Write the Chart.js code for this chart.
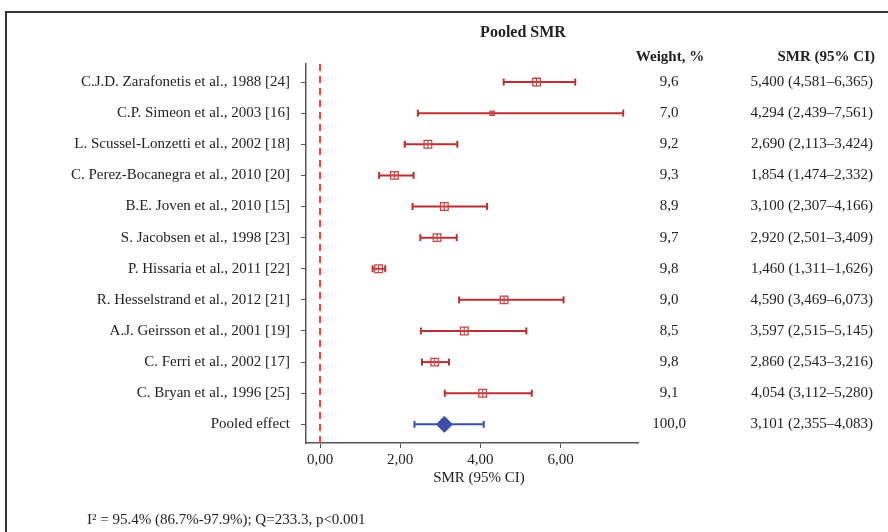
<!DOCTYPE html>
<html>
<head>
<meta charset="utf-8">
<script src="https://cdn.jsdelivr.net/npm/chart.js@4.4.0/dist/chart.umd.min.js"></script>
<style>
  html, body { margin: 0; padding: 0; background: #fff; }
  #wrap { position: relative; width: 888px; height: 532px; overflow: hidden; }
  #frame { position: absolute; left: 5px; top: 11px; width: 900px; height: 600px;
           border-top: 2px solid #333; border-left: 2px solid #333; }
  canvas { position: absolute; left: 0; top: 0; }
</style>
</head>
<body>
<div id="wrap">
  <div id="frame"></div>
  <canvas id="c" width="888" height="532"></canvas>
</div>
<script>
// ---- data ----
const studies = [
  "C.J.D. Zarafonetis et al., 1988 [24]",
  "C.P. Simeon et al., 2003 [16]",
  "L. Scussel-Lonzetti et al., 2002 [18]",
  "C. Perez-Bocanegra et al., 2010 [20]",
  "B.E. Joven et al., 2010 [15]",
  "S. Jacobsen et al., 1998 [23]",
  "P. Hissaria et al., 2011 [22]",
  "R. Hesselstrand et al., 2012 [21]",
  "A.J. Geirsson et al., 2001 [19]",
  "C. Ferri et al., 2002 [17]",
  "C. Bryan et al., 1996 [25]",
  "Pooled effect"
];
const smr     = [5.400, 4.294, 2.690, 1.854, 3.100, 2.920, 1.460, 4.590, 3.597, 2.860, 4.054, 3.101];
const ciLow   = [4.581, 2.439, 2.113, 1.474, 2.307, 2.501, 1.311, 3.469, 2.515, 2.543, 3.112, 2.355];
const ciHigh  = [6.365, 7.561, 3.424, 2.332, 4.166, 3.409, 1.626, 6.073, 5.145, 3.216, 5.280, 4.083];
const weights = [9.6, 7.0, 9.2, 9.3, 8.9, 9.7, 9.8, 9.0, 8.5, 9.8, 9.1, 100.0];
const xTicks  = [0, 2, 4, 6];
const chartTitle = "Pooled SMR";
const xTitle = "SMR (95% CI)";
const weightHeader = "Weight, %";
const smrHeader = "SMR (95% CI)";
const footnote = "I\u00B2 = 95.4% (86.7%-97.9%); Q=233.3, p<0.001";

// ---- helpers ----
const fmt = (v, d) => v.toFixed(d).replace('.', ',');
const RED = '#b83030';
const RED_MARK = '#c44848';
const BLUE = '#3a50aa';
const pooledIdx = studies.length - 1;
const serif = '"Liberation Serif", "Times New Roman", serif';

const datasets = [];
// reference dashed line at 0
datasets.push({
  data: [{x: 0, y: -0.58}, {x: 0, y: 11.6}],
  showLine: true, borderColor: '#ff3c3c', borderWidth: 2, borderDash: [7, 5],
  pointRadius: 0, order: 5
});
// CI lines with caps
studies.forEach((s, i) => {
  const col = i === pooledIdx ? BLUE : RED;
  datasets.push({
    data: [{x: ciLow[i], y: i}, {x: ciHigh[i], y: i}],
    showLine: true, borderColor: col, borderWidth: 2,
    pointStyle: 'line', rotation: 90, pointRadius: 3.5, pointBorderWidth: 2,
    pointBorderColor: col, order: 3
  });
});
// study point estimates: squares
const studyPts = smr.slice(0, pooledIdx).map((v, i) => ({x: v, y: i}));
datasets.push({
  data: studyPts,
  pointStyle: 'rect',
  pointRadius: studyPts.map((p, i) => weights[i] < 8 ? 3 : 5.4),
  backgroundColor: 'rgba(255,255,255,0)',
  borderColor: RED_MARK, borderWidth: 1.3, order: 1
});
datasets.push({
  data: studyPts,
  pointStyle: 'cross',
  pointRadius: studyPts.map((p, i) => weights[i] < 8 ? 2 : 3.8),
  borderColor: RED_MARK, borderWidth: 1.1, order: 0
});
// pooled diamond
datasets.push({
  data: [{x: smr[pooledIdx], y: pooledIdx}],
  pointStyle: 'rectRot', pointRadius: 8,
  backgroundColor: BLUE, borderColor: BLUE, borderWidth: 1, order: 0
});

const textPlugin = {
  id: 'texts',
  afterDraw(chart) {
    const ctx = chart.ctx;
    const y = chart.scales.y;
    ctx.save();
    ctx.fillStyle = '#222';
    ctx.textBaseline = 'middle';
    ctx.font = 'bold 16px ' + serif;
    ctx.textAlign = 'center';
    ctx.fillText(chartTitle, 523, 33);
    ctx.font = 'bold 15px ' + serif;
    ctx.fillText(weightHeader, 670, 57);
    ctx.textAlign = 'right';
    ctx.fillText(smrHeader, 875, 57);
    ctx.font = '15px ' + serif;
    studies.forEach((s, i) => {
      const py = y.getPixelForValue(i);
      ctx.textAlign = 'center';
      ctx.fillText(fmt(weights[i], 1), 669, py);
      ctx.textAlign = 'right';
      ctx.fillText(fmt(smr[i], 3) + ' (' + fmt(ciLow[i], 3) + '\u2013' + fmt(ciHigh[i], 3) + ')', 873, py);
    });
    ctx.textAlign = 'center';
    ctx.fillText(xTitle, 479, 478);
    ctx.textAlign = 'left';
    ctx.fillText(footnote, 87, 520);
    ctx.restore();
  }
};

new Chart(document.getElementById('c'), {
  type: 'scatter',
  data: { datasets },
  plugins: [textPlugin],
  options: {
    responsive: false,
    animation: false,
    layout: { padding: { left: 0, right: 250, top: 64, bottom: 39 } },
    plugins: { legend: { display: false }, tooltip: { enabled: false } },
    scales: {
      x: {
        type: 'linear', min: -0.35, max: 7.93,
        afterBuildTicks: (sc) => { sc.ticks = xTicks.map(v => ({value: v})); },
        afterFit: (sc) => { sc.height = 50; },
        ticks: {
          callback: (v) => fmt(v, 2),
          font: { family: serif, size: 15 }, color: '#222', padding: 3
        },
        grid: { drawOnChartArea: false, drawTicks: true, tickLength: 5, color: '#555' },
        border: { display: true, color: '#555', width: 1.5 }
      },
      y: {
        type: 'linear', reverse: true, min: -0.58, max: 11.6,
        afterBuildTicks: (sc) => { sc.ticks = studies.map((s, i) => ({value: i})); },
        afterFit: (sc) => { sc.width = 306; },
        ticks: {
          callback: (v) => studies[v],
          font: { family: serif, size: 15 }, color: '#222', padding: 11,
          autoSkip: false
        },
        grid: { drawOnChartArea: false, drawTicks: true, tickLength: 5, color: '#555' },
        border: { display: true, color: '#555', width: 1.5 }
      }
    }
  }
});
</script>
</body>
</html>
